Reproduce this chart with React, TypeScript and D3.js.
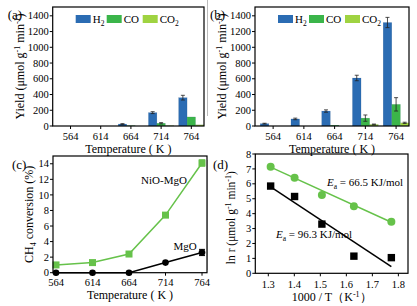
import React from "react";
import * as d3 from "d3";

const FONT = '"Liberation Serif", "Times New Roman", Times, serif';

// Panels (a) and (b): yields
const temps = ["564", "614", "664", "714", "764"];
const seriesNames = ["H2", "CO", "CO2"];
const aH2 = [0, 0, 25, 170, 360];
const aCO = [0, 0, 5, 35, 115];
const aCO2 = [0, 0, 0, 5, 15];
const aH2Err = [0, 0, 5, 12, 30];
const aCOErr = [0, 0, 0, 8, 0];
const aCO2Err = [0, 0, 0, 0, 0];
const bH2 = [30, 90, 190, 610, 1315];
const bCO = [0, 0, 10, 100, 275];
const bCO2 = [0, 0, 0, 20, 40];
const bH2Err = [5, 10, 15, 35, 65];
const bCOErr = [0, 0, 0, 40, 85];
const bCO2Err = [0, 0, 0, 5, 8];
const yieldTicks = [0, 200, 400, 600, 800, 1000, 1200, 1400];

// Panel (c): CH4 conversion
const convT = [564, 614, 664, 714, 764];
const nioMgo = [1.0, 1.3, 2.4, 7.4, 14.1];
const nioMgoErr = [0, 0, 0, 0, 0.4];
const mgo = [0, 0, 0, 1.3, 2.6];
const mgoErr = [0, 0, 0, 0, 0.4];
const convTicks = [0, 2, 4, 6, 8, 10, 12, 14];

// Panel (d): Arrhenius
const invT = [1.309, 1.401, 1.506, 1.629, 1.773];
const lnNio = [7.15, 6.4, 5.25, 4.5, 3.45];
const lnMgo = [5.85, 5.15, 3.3, 1.15, 1.05];
const fitX = [1.309, 1.773];
const fitNio = [7.12, 3.42];
const fitMgo = [5.8, 0.45];
const dXTicks = [1.3, 1.4, 1.5, 1.6, 1.7, 1.8];
const dYTicks = [0, 1, 2, 3, 4, 5, 6, 7, 8];

const C_H2 = "#2b6cb3";
const C_CO = "#3bb54a";
const C_CO2 = "#9fd341";
const C_LINE = "#66c24a";
const seriesColors = [C_H2, C_CO, C_CO2];

type Box = { left: number; right: number; top: number; bottom: number };

function Frame({ b }: { b: Box }) {
  return (
    <rect x={b.left} y={b.top} width={b.right - b.left} height={b.bottom - b.top}
      fill="none" stroke="#000" strokeWidth={1.2} />
  );
}

function YAxis({ b, y, ticks }: { b: Box; y: d3.ScaleLinear<number, number>; ticks: number[] }) {
  return (
    <g>
      {ticks.map((t) => (
        <g key={t}>
          <line x1={b.left - 3} x2={b.left} y1={y(t)} y2={y(t)} stroke="#000" strokeWidth={1} />
          <text x={b.left - 4} y={y(t) + 3.6} textAnchor="end" fontSize={10.5}>
            {String(t)}
          </text>
        </g>
      ))}
    </g>
  );
}

function BarPanel({ b, label, vals, errs }: { b: Box; label: string; vals: number[][]; errs: number[][] }) {
  const x = d3.scaleLinear().domain([-0.59, 4.42]).range([b.left, b.right]);
  const y = d3.scaleLinear().domain([0, 1512]).range([b.bottom, b.top]);
  const step = x(1) - x(0);
  const bw = step * 0.28;
  const legX = [b.left + 23, b.left + 54, b.left + 90];
  const legLabels = [["H", "2"], ["CO", ""], ["CO", "2"]];
  const midY = (b.top + b.bottom) / 2;
  return (
    <g>
      {vals.map((s, si) =>
        s.map((v, i) => {
          const cx = x(i) + (si - 1) * bw;
          return (
            <rect key={`${si}-${i}`} x={cx - bw / 2} y={y(v)} width={bw} height={Math.max(0, y(0) - y(v))}
              fill={seriesColors[si]} stroke="#1a3d66" strokeOpacity={0.25} strokeWidth={0.4} />
          );
        })
      )}
      {errs.map((s, si) =>
        s.map((e, i) => {
          if (!e) return null;
          const cx = x(i) + (si - 1) * bw;
          const v = vals[si][i];
          return (
            <g key={`e${si}-${i}`} stroke="#222" strokeWidth={0.8}>
              <line x1={cx} x2={cx} y1={y(v - e)} y2={y(v + e)} />
              <line x1={cx - 2} x2={cx + 2} y1={y(v + e)} y2={y(v + e)} />
              <line x1={cx - 2} x2={cx + 2} y1={y(v - e)} y2={y(v - e)} />
            </g>
          );
        })
      )}
      <Frame b={b} />
      <YAxis b={b} y={y} ticks={yieldTicks} />
      {temps.map((t, i) => (
        <g key={t}>
          <line x1={x(i)} x2={x(i)} y1={b.bottom} y2={b.bottom + 3} stroke="#000" />
          <text x={x(i)} y={b.bottom + 14} textAnchor="middle" fontSize={10.5}>{t}</text>
        </g>
      ))}
      <text x={(b.left + b.right) / 2} y={b.bottom + 26.5} textAnchor="middle" fontSize={12}>Temperature ( K )</text>
      <text transform={`translate(${b.left - 29},${midY}) rotate(-90)`} textAnchor="middle" fontSize={12}>
        Yield (μmol g<tspan dy={-4} fontSize={8}>-1</tspan><tspan dy={4}> min</tspan><tspan dy={-4} fontSize={8}>-1</tspan><tspan dy={4}>)</tspan>
      </text>
      <text x={b.left - 45} y={b.top + 12} fontSize={13}>{label}</text>
      {seriesNames.map((n, i) => (
        <g key={n}>
          <rect x={legX[i]} y={b.top + 8} width={15} height={8} fill={seriesColors[i]} />
          <text x={legX[i] + 17} y={b.top + 16} fontSize={11}>
            {legLabels[i][0]}
            {legLabels[i][1] ? <tspan dy={2.5} fontSize={7.5}>{legLabels[i][1]}</tspan> : null}
          </text>
        </g>
      ))}
    </g>
  );
}

function ConvPanel() {
  const b: Box = { left: 53, right: 207, top: 156, bottom: 272.7 };
  const x = d3.scaleLinear().domain([564, 764]).range([56, 202]);
  const y = d3.scaleLinear().domain([0, 15]).range([b.bottom, b.top]);
  const line = d3.line<number>().x((_, i) => x(convT[i])).y((d) => y(d));
  const midY = (b.top + b.bottom) / 2;
  const errBar = (xv: number, v: number, e: number, color: string) => (
    <g stroke={color} strokeWidth={1}>
      <line x1={x(xv)} x2={x(xv)} y1={y(v - e)} y2={y(v + e)} />
      <line x1={x(xv) - 3} x2={x(xv) + 3} y1={y(v + e)} y2={y(v + e)} />
      <line x1={x(xv) - 3} x2={x(xv) + 3} y1={y(v - e)} y2={y(v - e)} />
    </g>
  );
  return (
    <g>
      <path d={line(mgo) || ""} fill="none" stroke="#000" strokeWidth={1.5} />
      <path d={line(nioMgo) || ""} fill="none" stroke={C_LINE} strokeWidth={1.5} />
      {nioMgo.map((v, i) => (
        <g key={`n${i}`}>
          {nioMgoErr[i] ? errBar(convT[i], v, nioMgoErr[i], C_LINE) : null}
          <rect x={x(convT[i]) - 3.5} y={y(v) - 3.5} width={7} height={7} fill={C_LINE} />
        </g>
      ))}
      {mgo.map((v, i) => (
        <g key={`m${i}`}>
          {mgoErr[i] ? errBar(convT[i], v, mgoErr[i], "#000") : null}
          <circle cx={x(convT[i])} cy={y(v)} r={3.3} fill="#000" />
        </g>
      ))}
      <Frame b={b} />
      <YAxis b={b} y={y} ticks={convTicks} />
      {convT.map((t) => (
        <g key={t}>
          <line x1={x(t)} x2={x(t)} y1={b.bottom} y2={b.bottom + 3} stroke="#000" />
          <text x={x(t)} y={b.bottom + 13.5} textAnchor="middle" fontSize={10.5}>{t}</text>
        </g>
      ))}
      <text x={(b.left + b.right) / 2} y={b.bottom + 26} textAnchor="middle" fontSize={12}>Temperature ( K )</text>
      <text transform={`translate(${b.left - 20},${midY}) rotate(-90)`} textAnchor="middle" fontSize={12}>
        CH<tspan dy={2.5} fontSize={8}>4</tspan><tspan dy={-2.5}> conversion (%)</tspan>
      </text>
      <text x={12} y={169} fontSize={13}>(c)</text>
      <text x={164} y={184} textAnchor="middle" fontSize={11}>NiO-MgO</text>
      <text x={185} y={250} textAnchor="middle" fontSize={11}>MgO</text>
    </g>
  );
}

function ArrPanel() {
  const b: Box = { left: 255.3, right: 408, top: 154, bottom: 273.3 };
  const x = d3.scaleLinear().domain([1.25, 1.837]).range([b.left, b.right]);
  const y = d3.scaleLinear().domain([0, 8]).range([b.bottom, b.top]);
  const fit = d3.line<number>().x((_, i) => x(fitX[i])).y((d) => y(d));
  const midY = (b.top + b.bottom) / 2 + 4;
  return (
    <g>
      <path d={fit(fitNio) || ""} fill="none" stroke={C_LINE} strokeWidth={1.5} />
      <path d={fit(fitMgo) || ""} fill="none" stroke="#000" strokeWidth={1.5} />
      {lnNio.map((v, i) => (
        <circle key={`g${i}`} cx={x(invT[i])} cy={y(v)} r={4} fill={C_LINE} />
      ))}
      {lnMgo.map((v, i) => (
        <rect key={`k${i}`} x={x(invT[i]) - 3.7} y={y(v) - 3.7} width={7.4} height={7.4} fill="#000" />
      ))}
      <Frame b={b} />
      <YAxis b={b} y={y} ticks={dYTicks} />
      {dXTicks.map((t) => (
        <g key={t}>
          <line x1={x(t)} x2={x(t)} y1={b.bottom} y2={b.bottom + 3} stroke="#000" />
          <text x={x(t)} y={b.bottom + 15} textAnchor="middle" fontSize={10.5}>{t.toFixed(1)}</text>
        </g>
      ))}
      <text x={(b.left + b.right) / 2} y={b.bottom + 27.5} textAnchor="middle" fontSize={12}>
        1000 / T（K<tspan dy={-4} fontSize={8}>-1</tspan><tspan dy={4}>）</tspan>
      </text>
      <text transform={`translate(${b.left - 20},${midY}) rotate(-90)`} textAnchor="middle" fontSize={11.5}>
        ln r (μmol g<tspan dy={-4} fontSize={8}>-1</tspan><tspan dy={4}> min</tspan><tspan dy={-4} fontSize={8}>-1</tspan><tspan dy={4}>)</tspan>
      </text>
      <text x={213} y={169} fontSize={13}>(d)</text>
      <text x={327} y={186} fontSize={11}>
        <tspan fontStyle="italic">E</tspan><tspan dy={2.5} fontSize={7.5}>a</tspan><tspan dy={-2.5}> = 66.5 KJ/mol</tspan>
      </text>
      <text x={276} y={238} fontSize={11}>
        <tspan fontStyle="italic">E</tspan><tspan dy={2.5} fontSize={7.5}>a</tspan><tspan dy={-2.5}> = 96.3 KJ/mol</tspan>
      </text>
    </g>
  );
}

export default function App() {
  const boxA: Box = { left: 52.7, right: 204, top: 7, bottom: 126 };
  const boxB: Box = { left: 255, right: 409, top: 7, bottom: 126 };
  return (
    <svg width={417} height={306} fontFamily={FONT}
      style={{ position: "absolute", left: 0, top: 0, background: "#fff", fontFamily: FONT }}>
      <rect x={0} y={0} width={417} height={306} fill="#fff" />
      <line x1={207.5} x2={207.5} y1={0} y2={116} stroke="#bbb" strokeWidth={1} />
      <line x1={207.5} x2={207.5} y1={160} y2={270} stroke="#ccc" strokeWidth={1} />
      <BarPanel b={boxA} label="(a)" vals={[aH2, aCO, aCO2]} errs={[aH2Err, aCOErr, aCO2Err]} />
      <BarPanel b={boxB} label="(b)" vals={[bH2, bCO, bCO2]} errs={[bH2Err, bCOErr, bCO2Err]} />
      <ConvPanel />
      <ArrPanel />
    </svg>
  );
}
